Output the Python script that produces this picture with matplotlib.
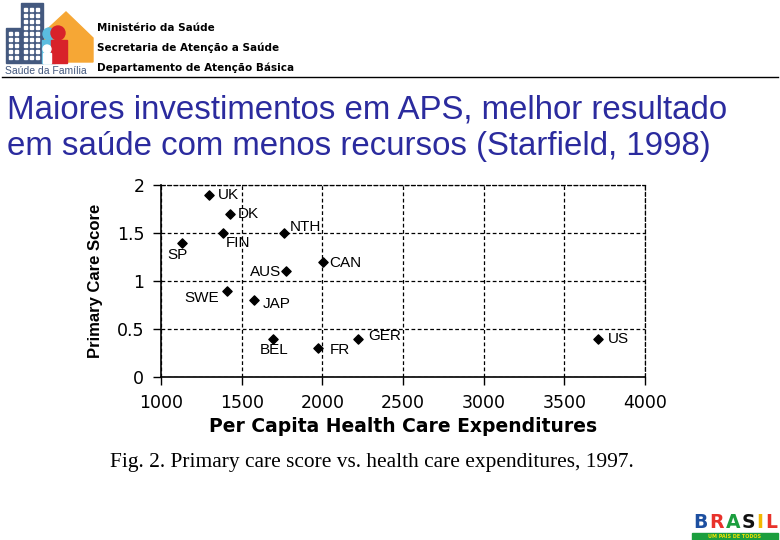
import matplotlib.pyplot as plt
from matplotlib.patches import Rectangle, Polygon, Circle

# dados: gasto per capita x escore de atenção primária (Starfield)
countries = ['UK', 'DK', 'FIN', 'NTH', 'SP', 'CAN', 'AUS', 'SWE', 'JAP', 'BEL', 'FR', 'GER', 'US']
expenditures = [1300, 1430, 1385, 1760, 1130, 2005, 1775, 1410, 1575, 1695, 1975, 2220, 3710]
scores = [1.9, 1.7, 1.5, 1.5, 1.4, 1.2, 1.1, 0.9, 0.8, 0.4, 0.3, 0.4, 0.4]

# deslocamento dos rótulos (pixels) e alinhamento
label_offsets = {
    'UK': (8, 0, 'left'), 'DK': (7, 0, 'left'), 'FIN': (3, -10, 'left'),
    'NTH': (6, 6, 'left'), 'SP': (-4, -12, 'center'), 'CAN': (6, -1, 'left'),
    'AUS': (-5, -1, 'right'), 'SWE': (-8, -7, 'right'), 'JAP': (9, -4, 'left'),
    'BEL': (1, -11, 'center'), 'FR': (11, -2, 'left'), 'GER': (10, 3, 'left'),
    'US': (10, 0, 'left'),
}

xticks = [1000, 1500, 2000, 2500, 3000, 3500, 4000]
yticks = [0, 0.5, 1, 1.5, 2]
ytick_labels = ['0', '0.5', '1', '1.5', '2']

fig = plt.figure(figsize=(7.8, 5.4), dpi=100)

# camada de decoração do slide em coordenadas de pixel
deco = fig.add_axes([0, 0, 1, 1])
deco.set_xlim(0, 780)
deco.set_ylim(540, 0)
deco.axis('off')

# logo Saúde da Família (aproximado)
deco.add_patch(Polygon([[38, 62], [38, 38], [66, 12], [93, 38], [93, 62]], closed=True, color='#f6a735', zorder=1))
deco.add_patch(Rectangle((6, 28), 15, 35, color='#44597f', zorder=2))
deco.add_patch(Rectangle((21, 3), 22, 60, color='#44597f', zorder=2))
for wx in [9, 15]:
    for wy in range(32, 60, 6):
        deco.add_patch(Rectangle((wx, wy), 3, 3, color='white', zorder=3))
for wx in [24, 30, 36]:
    for wy in range(8, 60, 6):
        deco.add_patch(Rectangle((wx, wy), 3, 3, color='white', zorder=3))
deco.add_patch(Circle((49, 34), 6, color='#5bbde0', zorder=4))
deco.add_patch(Rectangle((42, 40), 13, 23, color='#5bbde0', zorder=4))
deco.add_patch(Circle((58, 33), 7, color='#d8222a', zorder=5))
deco.add_patch(Rectangle((51, 40), 16, 23, color='#d8222a', zorder=5))
deco.add_patch(Circle((47, 49), 4, color='white', zorder=6))
deco.add_patch(Rectangle((43, 53), 8, 10, color='white', zorder=6))
deco.text(5, 71, 'Saúde da Família', fontsize=7.5, color='#44597f', va='center',
          family='Liberation Sans', zorder=7)

# cabeçalho
header = ['Ministério da Saúde', 'Secretaria de Atenção a Saúde', 'Departamento de Atenção Básica']
for txt, yy in zip(header, [28, 48, 68]):
    deco.text(97, yy, txt, fontsize=7.5, fontweight='bold', va='center',
              family='DejaVu Sans')
deco.plot([2, 778], [77, 77], color='black', lw=1)

# título
deco.text(7, 110, 'Maiores investimentos em APS, melhor resultado', fontsize=23.8,
          color='#2b2b9e', va='center', family='Liberation Sans')
deco.text(7, 147, 'em saúde com menos recursos (Starfield, 1998)', fontsize=23.8,
          color='#2b2b9e', va='center', family='Liberation Sans')

# legenda da figura
deco.text(110, 463, 'Fig. 2. Primary care score vs. health care expenditures, 1997.',
          fontsize=15.4, va='center', family='Liberation Serif')

# logo Brasil (aproximado)
for letter, col, xx in zip('BRASIL', ['#1d4fa0', '#e8322b', '#1b9e3e', '#111111', '#f2b800', '#e8322b'],
                           [700.5, 716.5, 732.7, 748.4, 760.2, 771.2]):
    deco.text(xx, 522, letter, fontsize=13.5, fontweight='bold', color=col,
              va='center', ha='center', family='DejaVu Sans')
deco.add_patch(Rectangle((692, 533), 86, 7, color='#1b9e3e'))
deco.text(735, 536.5, 'UM PAÍS DE TODOS', fontsize=3.5, color='#f2e000', fontweight='bold',
          ha='center', va='center', family='DejaVu Sans')

# gráfico de dispersão
ax = fig.add_axes([161 / 780, 1 - 377 / 540, 484 / 780, 192 / 540])
ax.patch.set_alpha(0)
ax.scatter(expenditures, scores, marker='D', s=22, color='black', zorder=3)
for name, xv, yv in zip(countries, expenditures, scores):
    dx, dy, ha = label_offsets[name]
    ax.annotate(name, (xv, yv), xytext=(dx, dy), textcoords='offset pixels',
                ha=ha, va='center', fontsize=11, family='Liberation Sans')

ax.set_xlim(1000, 4000)
ax.set_ylim(0, 2)
ax.set_xticks(xticks)
ax.set_yticks(yticks)
ax.set_yticklabels(ytick_labels)
ax.grid(True, linestyle=(0, (3, 2)), color='black', lw=0.9)
for side in ['top', 'right']:
    ax.spines[side].set_linestyle((0, (3, 2)))
    ax.spines[side].set_linewidth(0.9)
ax.spines['left'].set_linewidth(1.2)
ax.spines['bottom'].set_linewidth(1.2)
ax.tick_params(direction='out', length=6, width=1, labelsize=12.5, pad=6)
for lbl in ax.get_xticklabels() + ax.get_yticklabels():
    lbl.set_family('DejaVu Sans')
ax.set_xlabel('Per Capita Health Care Expenditures', fontsize=13.5, fontweight='bold',
              family='DejaVu Sans', labelpad=4)
ax.set_ylabel('Primary Care Score', fontsize=12, fontweight='bold',
              family='Liberation Sans', labelpad=10)

fig.savefig('out.png', dpi=100)
